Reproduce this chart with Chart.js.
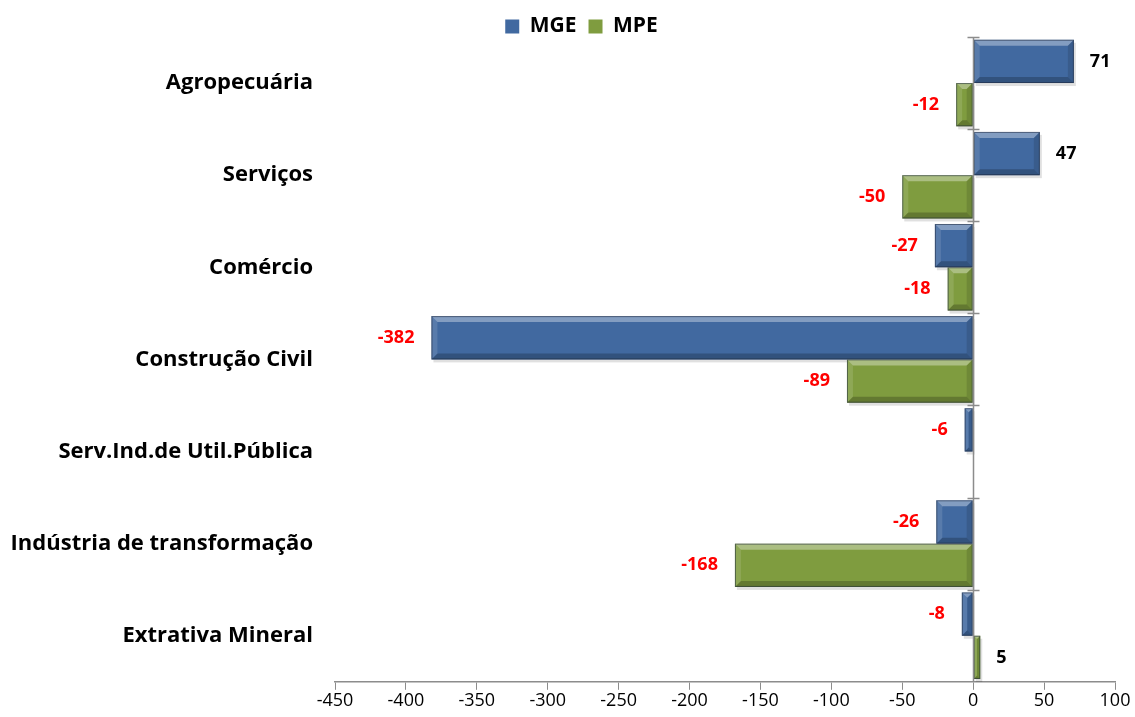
<!DOCTYPE html>
<html>
<head>
<meta charset="utf-8">
<script src="https://cdn.jsdelivr.net/npm/chart.js@4"></script>
<style>
  html, body { margin: 0; padding: 0; background: #fff; }
  #wrap { width: 1135px; height: 717px; }
</style>
</head>
<body>
<div id="wrap"><canvas id="grafico" width="1135" height="717"></canvas></div>
<script>
const categories = ['Agropecuária', 'Serviços', 'Comércio', 'Construção Civil',
  'Serv.Ind.de Util.Pública', 'Indústria de transformação', 'Extrativa Mineral'];
const mgeValues = [71, 47, -27, -382, -6, -26, -8];
const mpeValues = [-12, -50, -18, -89, null, -168, 5];
const xMin = -450;
const xMax = 100;
const xStep = 50;

const FONT = '"Open Sans", Lato, "Liberation Sans", sans-serif';
const AXIS_COLOR = '#8c8c8c';

// keep the legend box short and nudge it a bit to the right
const legendHeightPlugin = {
  id: 'legendHeight',
  beforeLayout(chart) {
    const lg = chart.legend;
    if (lg && !lg._patched) {
      const fit = lg.fit.bind(lg);
      lg.fit = function () { fit(); this.height = 33; };
      const draw = lg.draw.bind(lg);
      lg.draw = function () {
        chart.ctx.save();
        chart.ctx.translate(24, 0);
        draw();
        chart.ctx.restore();
      };
      lg._patched = true;
    }
  }
};

// bevel effect + drop shadow over each bar
const bevelPlugin = {
  id: 'bevel',
  beforeDatasetsDraw(chart) {
    const ctx = chart.ctx;
    ctx.save();
    ctx.fillStyle = 'rgba(0,0,0,0.12)';
    chart.data.datasets.forEach((ds, i) => {
      chart.getDatasetMeta(i).data.forEach((bar, j) => {
        if (ds.data[j] == null) return;
        const p = bar.getProps(['x', 'y', 'base', 'height'], true);
        const x0 = Math.min(p.x, p.base), x1 = Math.max(p.x, p.base);
        ctx.fillRect(x0 + 2, p.y - p.height / 2 + 3, x1 - x0, p.height);
      });
    });
    ctx.restore();
  },
  afterDatasetsDraw(chart) {
    const ctx = chart.ctx;
    chart.data.datasets.forEach((ds, i) => {
      chart.getDatasetMeta(i).data.forEach((bar, j) => {
        if (ds.data[j] == null) return;
        const p = bar.getProps(['x', 'y', 'base', 'height'], true);
        const x0 = Math.min(p.x, p.base), x1 = Math.max(p.x, p.base);
        const y0 = p.y - p.height / 2, y1 = p.y + p.height / 2;
        const b = Math.min(6, (x1 - x0) / 2, p.height / 4);
        ctx.save();
        const poly = (pts, color) => {
          ctx.beginPath();
          ctx.moveTo(pts[0][0], pts[0][1]);
          pts.slice(1).forEach(q => ctx.lineTo(q[0], q[1]));
          ctx.closePath();
          ctx.fillStyle = color;
          ctx.fill();
        };
        poly([[x0, y0], [x1, y0], [x1 - b, y0 + b], [x0 + b, y0 + b]], 'rgba(255,255,255,0.35)');
        poly([[x0, y1], [x1, y1], [x1 - b, y1 - b], [x0 + b, y1 - b]], 'rgba(0,0,0,0.22)');
        poly([[x0, y0], [x0 + b, y0 + b], [x0 + b, y1 - b], [x0, y1]], 'rgba(255,255,255,0.12)');
        poly([[x1, y0], [x1 - b, y0 + b], [x1 - b, y1 - b], [x1, y1]], 'rgba(0,0,0,0.12)');
        ctx.strokeStyle = 'rgba(30,40,60,0.55)';
        ctx.lineWidth = 1;
        ctx.strokeRect(x0 + 0.5, y0 + 0.5, x1 - x0 - 1, y1 - y0 - 1);
        ctx.restore();
      });
    });
  }
};

// zero axis with crossing tick marks at category boundaries
const zeroAxisPlugin = {
  id: 'zeroAxis',
  afterDraw(chart) {
    const ctx = chart.ctx;
    const xs = chart.scales.x, ys = chart.scales.y;
    const x = Math.round(xs.getPixelForValue(0)) + 0.5;
    const band = (ys.bottom - ys.top) / categories.length;
    ctx.save();
    ctx.strokeStyle = AXIS_COLOR;
    ctx.lineWidth = 1.5;
    ctx.beginPath();
    ctx.moveTo(x, ys.top);
    ctx.lineTo(x, ys.bottom);
    for (let i = 0; i < categories.length; i++) {
      const yy = Math.round(ys.top + band * i) + 0.5;
      ctx.moveTo(x - 6, yy);
      ctx.lineTo(x + 6, yy);
    }
    ctx.stroke();
    ctx.restore();
  }
};

// value labels at bar ends
const valueLabelPlugin = {
  id: 'valueLabels',
  afterDraw(chart) {
    const ctx = chart.ctx;
    ctx.save();
    ctx.font = 'bold 18px ' + FONT;
    ctx.textBaseline = 'middle';
    chart.data.datasets.forEach((ds, i) => {
      chart.getDatasetMeta(i).data.forEach((bar, j) => {
        const v = ds.data[j];
        if (v == null) return;
        const p = bar.getProps(['x', 'y'], true);
        if (v < 0) {
          ctx.fillStyle = '#ff0000';
          ctx.textAlign = 'right';
          ctx.fillText(String(v), p.x - 17, p.y);
        } else {
          ctx.fillStyle = '#000000';
          ctx.textAlign = 'left';
          ctx.fillText(String(v), p.x + 16, p.y);
        }
      });
    });
    ctx.restore();
  }
};

new Chart(document.getElementById('grafico'), {
  type: 'bar',
  data: {
    labels: categories,
    datasets: [
      {
        label: 'MGE',
        data: mgeValues,
        backgroundColor: '#4169a0',
        borderWidth: 0,
        categoryPercentage: 0.94,
        barPercentage: 1.0
      },
      {
        label: 'MPE',
        data: mpeValues,
        backgroundColor: '#7f9c3f',
        borderWidth: 0,
        categoryPercentage: 0.94,
        barPercentage: 1.0
      }
    ]
  },
  options: {
    indexAxis: 'y',
    responsive: false,
    animation: false,
    layout: { padding: { left: 0, right: 20, top: 4, bottom: 0 } },
    plugins: {
      legend: {
        position: 'top',
        labels: {
          font: { family: FONT, size: 21, weight: 'bold' },
          color: '#000',
          boxWidth: 14,
          boxHeight: 14,
          padding: 12
        }
      },
      tooltip: { enabled: false }
    },
    scales: {
      x: {
        min: xMin,
        max: xMax,
        ticks: {
          stepSize: xStep,
          color: '#000',
          font: { family: FONT, size: 18 },
          padding: 0
        },
        grid: {
          drawOnChartArea: false,
          drawTicks: true,
          tickLength: 8,
          color: AXIS_COLOR
        },
        border: { color: AXIS_COLOR, width: 1.5 }
      },
      y: {
        ticks: {
          color: '#000',
          font: { family: FONT, size: 22, weight: 'bold' },
          padding: 22
        },
        grid: { display: false, drawTicks: false },
        border: { display: false },
        afterFit(scale) { scale.width = 335; }
      }
    }
  },
  plugins: [legendHeightPlugin, bevelPlugin, zeroAxisPlugin, valueLabelPlugin]
});
</script>
</body>
</html>
